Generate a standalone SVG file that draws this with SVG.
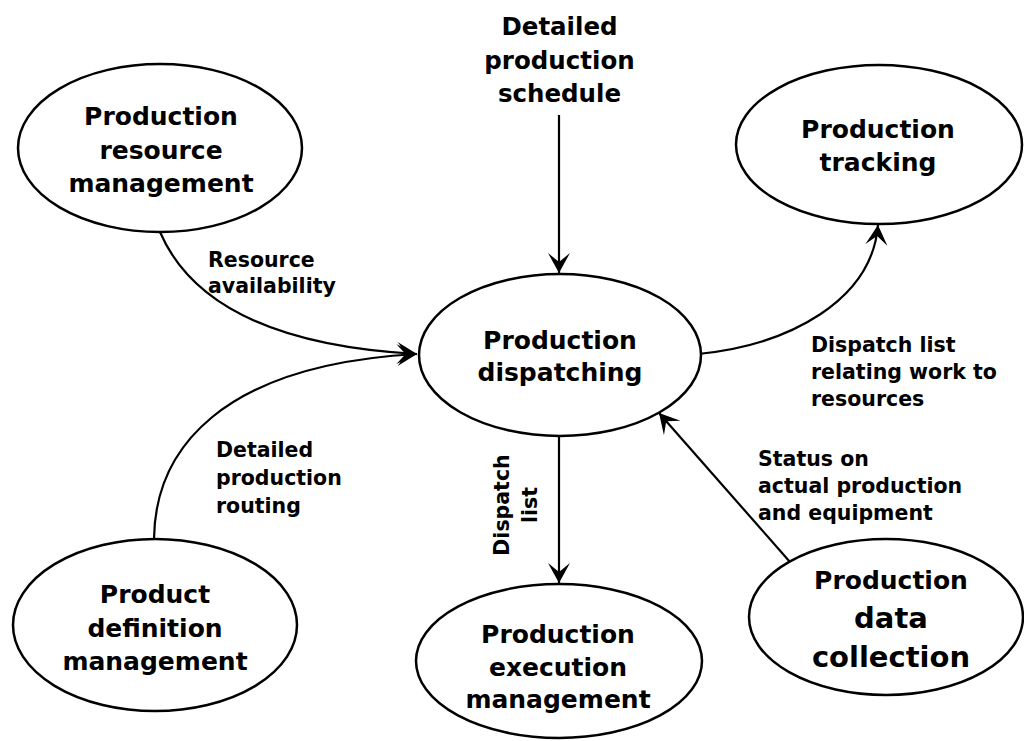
<svg xmlns="http://www.w3.org/2000/svg" width="1024" height="741" viewBox="0 0 1024 741">
  <style>
    .node { fill: #ffffff; stroke: #000000; stroke-width: 2.5; }
    .edge { fill: none; stroke: #000000; stroke-width: 2.2; marker-end: url(#arrow); }
    text { font-family: "DejaVu Sans", Verdana, sans-serif; font-weight: bold; fill: #000000; }
    .nt { font-size: 25px; text-anchor: middle; }
    .big { font-size: 29px; text-anchor: middle; }
    .el { font-size: 20.5px; }
    .top { font-size: 24.5px; text-anchor: middle; }
  </style>
  <defs>
    <marker id="arrow" markerUnits="userSpaceOnUse" viewBox="-22 -12 24 24" refX="0" refY="0" markerWidth="24" markerHeight="24" orient="auto">
      <path d="M0,0 L-20,-11 L-11,0 L-20,11 Z" fill="#000000"/>
    </marker>
  </defs>
  <rect x="0" y="0" width="1024" height="741" fill="#ffffff"/>

  <g id="connectors">
    <path class="edge" d="M559,115 L559,273"/>
    <path class="edge" d="M160,232 C185,290 250,345 417,354"/>
    <path class="edge" d="M154,539 C155,450 220,365 417,354"/>
    <path class="edge" d="M698,354 C790,345 872,300 878,225"/>
    <path class="edge" d="M559,436 L559,583"/>
    <path class="edge" d="M790,562 L659,413"/>
  </g>

  <g id="edge-labels">
    <text class="top" x="559.5" y="35">Detailed</text>
    <text class="top" x="559.5" y="68.5">production</text>
    <text class="top" x="559.5" y="102">schedule</text>
    <text class="el" x="208" y="267">Resource</text>
    <text class="el" x="208" y="293">availability</text>
    <text class="el" x="216" y="457">Detailed</text>
    <text class="el" x="216" y="485">production</text>
    <text class="el" x="216" y="513">routing</text>
    <text class="el" x="811" y="352">Dispatch list</text>
    <text class="el" x="811" y="379">relating work to</text>
    <text class="el" x="811" y="406">resources</text>
    <text class="el" x="758" y="466">Status on</text>
    <text class="el" x="758" y="493">actual production</text>
    <text class="el" x="758" y="520">and equipment</text>
    <g transform="translate(509,505) rotate(-90)">
      <text class="el" x="0" y="0" text-anchor="middle">Dispatch</text>
      <text class="el" x="0" y="28" text-anchor="middle">list</text>
    </g>
  </g>

  <g id="node-resource">
    <ellipse class="node" cx="160" cy="148" rx="142" ry="84"/>
    <text class="nt" x="161" y="125">Production</text>
    <text class="nt" x="161" y="159">resource</text>
    <text class="nt" x="161" y="192">management</text>
  </g>

  <g id="node-tracking">
    <ellipse class="node" cx="879" cy="144.5" rx="143" ry="79.5"/>
    <text class="nt" x="878" y="138">Production</text>
    <text class="nt" x="878" y="171">tracking</text>
  </g>

  <g id="node-dispatching">
    <ellipse class="node" cx="560" cy="355" rx="141" ry="81"/>
    <text class="nt" x="560" y="349">Production</text>
    <text class="nt" x="560" y="381">dispatching</text>
  </g>

  <g id="node-definition">
    <ellipse class="node" cx="155" cy="625" rx="142" ry="86"/>
    <text class="nt" x="155" y="603">Product</text>
    <text class="nt" x="155" y="637">definition</text>
    <text class="nt" x="155" y="670">management</text>
  </g>

  <g id="node-execution">
    <ellipse class="node" cx="559" cy="661" rx="143" ry="77"/>
    <text class="nt" x="558" y="643">Production</text>
    <text class="nt" x="558" y="676">execution</text>
    <text class="nt" x="558" y="708">management</text>
  </g>

  <g id="node-datacollection">
    <ellipse class="node" cx="886" cy="617" rx="137" ry="78"/>
    <text class="nt" x="891" y="589">Production</text>
    <text class="big" x="891" y="628">data</text>
    <text class="big" x="891" y="667">collection</text>
  </g>
</svg>
